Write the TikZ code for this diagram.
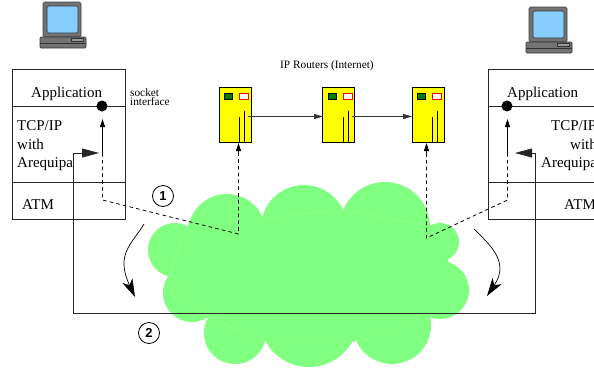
\documentclass[tikz,border=0pt]{standalone}
\usepackage{fontspec}
\setmainfont{Liberation Serif}
\setsansfont{Liberation Sans}
\usetikzlibrary{arrows.meta,calc}
\definecolor{cloudg}{HTML}{80FF80}
\definecolor{scr}{HTML}{87CEFF}
\definecolor{routy}{HTML}{FFFF00}
\definecolor{ledg}{HTML}{008000}
\tikzset{
  cloudpart/.style={fill=cloudg,draw=none},
  stackbox/.style={draw=black!85,line width=0.8pt,fill=none,inner sep=0pt},
  rule/.style={draw=black!85,line width=0.8pt},
  lbl/.style={font=\fontsize{15}{15}\selectfont,anchor=base west,inner sep=0pt},
  tiny/.style={font=\fontsize{11.3}{11.3}\selectfont,anchor=base west,inner sep=0pt},
  routerbox/.style={draw=black,line width=0.8pt,fill=routy,minimum width=32pt,minimum height=55pt,inner sep=0pt},
  rlink/.style={draw=black!80,line width=0.8pt,-{Triangle[length=9pt,width=5pt]}},
  sock/.style={draw=black,line width=0.8pt,dashed,dash pattern=on 3.6pt off 3.2pt},
  socktip/.style={draw=black,line width=0.8pt,-{Triangle[length=8pt,width=5pt]}},
  atmlink/.style={draw=black!85,line width=0.8pt,-{Triangle[length=17pt,width=9pt]}},
  sweep/.style={draw=black,line width=0.7pt,-{Stealth[length=18pt,width=11pt,inset=5pt]}},
  dotn/.style={circle,fill=black,minimum size=11pt,inner sep=0pt},
  numc/.style={circle,draw=black,line width=0.8pt,fill=white,minimum size=21pt,inner sep=0pt,font=\sffamily\bfseries\fontsize{13}{13}\selectfont},
  seam/.style={draw=cloudg!75!white,line width=0.3pt},
}
\newcommand{\pc}[2]{%
  \begin{scope}[shift={(#1,#2)}]
    \draw[black!75,fill=black!55,line width=0.6pt,rounded corners=1.5pt] (43,2) rectangle (81,37);
    \draw[black!80,fill=scr,line width=0.6pt,rounded corners=1.5pt] (47,6) rectangle (78,33);
    \draw[black!80,fill=black!55,line width=0.6pt,rounded corners=1pt] (40,37) rectangle (86,48);
    \draw[black!80,line width=0.5pt] (40,43) -- (86,43);
    \draw[black!80,fill=black!40,line width=0.5pt] (71,38) rectangle (83,41);
  \end{scope}}
\newcommand{\routerfront}[1]{%
  \begin{scope}[shift={(#1,0)}]
    \draw[black,fill=ledg,line width=0.6pt] (5,93) rectangle (13,99);
    \draw[red,fill=white,line width=0.7pt] (20,93) rectangle (29,99);
    \draw[black,line width=0.7pt] (20.5,142) -- (20.5,117);
    \draw[black,line width=0.7pt] (25.5,142) -- (25.5,111);
  \end{scope}}
\begin{document}
\begin{tikzpicture}[x=1pt,y=-1pt]
\useasboundingbox (0,0) rectangle (594,370);
\clip (0,0) rectangle (594,370);
% cloud
\foreach \cx/\cy/\r in {175/250/27,192/293/29,235/333/31,227/233/39,304/228/43,385/227/45,440/242/19,440/290/29,392/325/39,309/317.5/49.5}{
  \fill[cloudpart] (\cx,\cy) circle[radius=\r];
}
\fill[cloudpart] (189,223) -- (264,218) -- (343,210) -- (430,225) -- (449,258) -- (431,318) -- (352,342) -- (266,342) -- (207,317) -- (168,276) -- cycle;
\draw[seam] (264,218) -- (343,210) -- (426,225);
\draw[seam] (429,318) -- (352,342) -- (266,342) -- (207,317) -- (168,276) -- (189,223);
% computers
\pc{0}{0}
\pc{486}{5}
% protocol stacks
\node[stackbox,minimum width=113pt,minimum height=150.5pt] (lstack) at (68.5,144.25) {};
\node[stackbox,minimum width=120pt,minimum height=150.5pt,anchor=west] (rstack) at (488,144.25) {};
\draw[rule] (12,106.5) -- (125,106.5);
\draw[rule] (12,182) -- (125,182);
\draw[rule] (488,106.5) -- (600,106.5);
\draw[rule] (488,182) -- (600,182);
\node[lbl] (lapp) at (31,97) {Application};
\node[lbl] (ltcp) at (17,130) {TCP/IP};
\node[lbl] (lwith) at (17,149) {with};
\node[lbl] (lareq) at (17,167) {Arequipa};
\node[lbl] (latm) at (22,209) {ATM};
\node[lbl] (rapp) at (507,97) {Application};
\node[lbl] (rtcp) at (551,130) {TCP/IP};
\node[lbl] (rwith) at (570,149) {with};
\node[lbl] (rareq) at (541,167) {Arequipa};
\node[lbl] (ratm) at (564,209) {ATM};
\node[tiny] (sock1) at (130,96.5) {socket};
\node[tiny] (sock2) at (130,105.5) {interface};
\node[tiny] (iptitle) at (280,68) {IP Routers (Internet)};
% routers
\node[routerbox] (r1) at (235,114.5) {};
\node[routerbox] (r2) at (338.5,114.5) {};
\node[routerbox] (r3) at (428,114.5) {};
\routerfront{219}
\routerfront{323}
\routerfront{412}
\coordinate (r1out) at (248,116.5);
\coordinate (r2in) at (323,116.5);
\coordinate (r2out) at (352,116.5);
\coordinate (r3in) at (412,116.5);
\draw[rlink] (r1out) -- (r2in);
\draw[rlink] (r2out) -- (r3in);
% socket dots
\node[dotn] (ldot) at (102,106) {};
\node[dotn] (rdot) at (507,106) {};
% dashed signalling paths
\coordinate (ltip) at (102.5,119);
\coordinate (lmid) at (102.5,153);
\coordinate (lbend) at (102.5,200);
\coordinate (lcl) at (238.5,234);
\coordinate (r1tip) at (238.5,143);
\coordinate (r1dash) at (238.5,155);
\coordinate (rtip) at (507.5,119);
\coordinate (rmid) at (507.5,153);
\coordinate (rbend) at (507.5,200);
\coordinate (rcl) at (426.5,238);
\coordinate (r3tip) at (426.5,143);
\coordinate (r3dash) at (426.5,155);
\draw[sock] (lmid) -- (lbend) -- (lcl) -- (r1dash);
\draw[socktip] (lmid) -- (ltip);
\draw[socktip] (r1dash) -- (r1tip);
\draw[sock] (rmid) -- (rbend) -- (rcl) -- (r3dash);
\draw[socktip] (rmid) -- (rtip);
\draw[socktip] (r3dash) -- (r3tip);
% ATM connection
\coordinate (atmL) at (73.5,313.5);
\coordinate (atmLt) at (73.5,153);
\coordinate (atmLa) at (99,153);
\coordinate (atmR) at (535,313.5);
\coordinate (atmRt) at (535,153);
\coordinate (atmRa) at (515,153);
\draw[atmlink] (atmL) -- (atmLt) -- (atmLa);
\draw[atmlink] (atmL) -- (atmR) -- (atmRt) -- (atmRa);
% sweep arrows
\coordinate (sw1a) at (144,224);
\coordinate (sw1b) at (135,297);
\coordinate (sw2a) at (474,229);
\coordinate (sw2b) at (487,296);
\draw[sweep] (sw1a) .. controls (132,244) and (115,254) .. (sw1b);
\draw[sweep] (sw2a) .. controls (490,245) and (510,262) .. (sw2b);
% numbers
\node[numc] (n1) at (163,196) {1};
\node[numc] (n2) at (149,333) {2};
\end{tikzpicture}
\end{document}
